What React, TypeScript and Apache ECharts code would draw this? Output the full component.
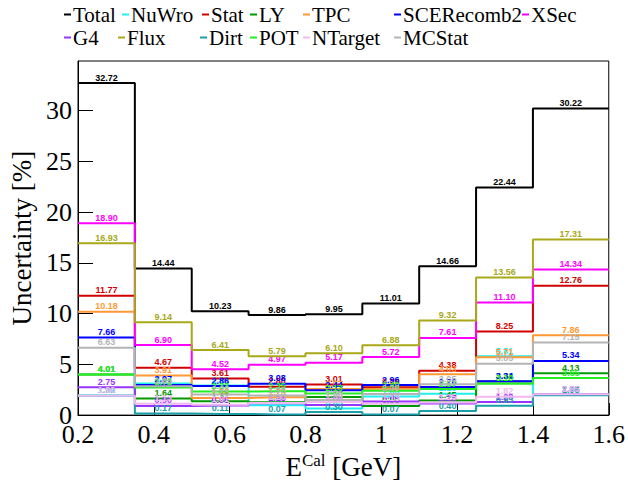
import React, { useEffect, useRef } from 'react';
import * as echarts from 'echarts';

const binEdges = [0.2, 0.35, 0.5, 0.65, 0.8, 0.95, 1.1, 1.25, 1.4, 1.6];
const xTicks = [0.2, 0.4, 0.6, 0.8, 1.0, 1.2, 1.4, 1.6];

const total = [32.72, 14.44, 10.23, 9.86, 9.95, 11.01, 14.66, 22.44, 30.22];
const nuwro = [1.92, 3.12, 2.92, 0.97, 0.65, 1.83, 2.1, 5.81, 2.05];
const stat = [11.77, 4.67, 3.61, 2.8, 3.01, 2.75, 4.38, 8.25, 12.76];
const ly = [4.01, 1.64, 1.37, 1.27, 1.79, 0.9, 1.45, 3.31, 4.13];
const tpc = [10.18, 3.91, 1.69, 1.75, 2.57, 2.6, 4.03, 5.71, 7.86];
const sce = [7.66, 2.97, 2.86, 3.08, 2.44, 2.96, 2.76, 3.34, 5.34];
const xsec = [18.9, 6.9, 4.52, 4.97, 5.17, 5.72, 7.61, 11.1, 14.34];
const g4 = [2.75, 0.9, 0.95, 1.18, 1.0, 1.33, 1.15, 1.28, 2.05];
const flux = [16.93, 9.14, 6.41, 5.79, 6.1, 6.88, 9.32, 13.56, 17.31];
const dirt = [1.9, 0.17, 0.11, 0.07, 0.3, 0.07, 0.4, 0.93, 1.95];
const pot = [4.01, 2.72, 2.33, 2.35, 2.13, 2.4, 2.57, 3.1, 3.65];
const ntarget = [1.9, 1.13, 1.01, 1.2, 1.3, 1.13, 1.25, 1.82, 2.05];
const mcstat = [6.63, 2.85, 2.03, 1.93, 1.5, 2.09, 3.05, 5.05, 7.15];

const seriesDefs = [
  { name: 'Total', values: total, color: '#000000' },
  { name: 'NuWro', values: nuwro, color: '#22eeee' },
  { name: 'Stat', values: stat, color: '#d00000' },
  { name: 'LY', values: ly, color: '#009900' },
  { name: 'TPC', values: tpc, color: '#ff9933' },
  { name: 'SCERecomb2', values: sce, color: '#0000ff' },
  { name: 'XSec', values: xsec, color: '#ff00ff' },
  { name: 'G4', values: g4, color: '#9933ff' },
  { name: 'Flux', values: flux, color: '#a8a818' },
  { name: 'Dirt', values: dirt, color: '#1a9fa8' },
  { name: 'POT', values: pot, color: '#22ee22' },
  { name: 'NTarget', values: ntarget, color: '#f2b8f2' },
  { name: 'MCStat', values: mcstat, color: '#b4b4b4' },
];

// legend layout: [left, top]
const legendPos: Record<string, [number, number]> = {
  Total: [64, 4], NuWro: [122, 4], Stat: [202, 4], LY: [250, 4], TPC: [303, 4], SCERecomb2: [394, 4], XSec: [522, 4],
  G4: [64, 27], Flux: [118, 27], Dirt: [200, 27], POT: [250, 27], NTarget: [303, 27], MCStat: [394, 27],
};

function buildData(values: number[]) {
  const out: any[] = [];
  values.forEach((v, i) => {
    const lo = binEdges[i];
    const hi = binEdges[i + 1];
    out.push([lo, v]);
    out.push({ value: [(lo + hi) / 2, v], label: { show: true } });
    out.push([hi, v]);
  });
  return out;
}

export default function App() {
  const ref = useRef<HTMLDivElement>(null);
  useEffect(() => {
    if (!ref.current) return;
    const chart = echarts.init(ref.current, undefined, { renderer: 'svg' });
    const serif = 'Liberation Serif';
    const option: any = {
      animation: false,
      backgroundColor: '#ffffff',
      legend: seriesDefs.map((s) => ({
        data: [s.name],
        left: legendPos[s.name][0],
        top: legendPos[s.name][1],
        icon: 'rect',
        itemWidth: 7,
        itemHeight: 2,
        itemGap: 0,
        padding: 0,
        selectedMode: false,
        textStyle: { fontFamily: serif, fontSize: 21, color: '#000', padding: [0, 0, 0, -3] },
      })),
      grid: { left: 78, right: 18, top: 61, bottom: 67, show: true, borderColor: '#000', borderWidth: 1 },
      xAxis: {
        type: 'value',
        min: 0.2,
        max: 1.6,
        interval: 0.2,
        name: '{a|E}{s|Cal}{a| [GeV]}',
        nameLocation: 'middle',
        nameGap: 30,
        nameTextStyle: {
          rich: {
            a: { fontFamily: serif, fontSize: 27, color: '#000' },
            s: { fontFamily: serif, fontSize: 17, color: '#000', padding: [0, 0, 12, 0] },
          },
        },
        axisLine: { lineStyle: { color: '#000', width: 1 } },
        axisTick: { inside: true, length: 12, lineStyle: { color: '#000' } },
        axisLabel: {
          fontFamily: serif,
          fontSize: 26,
          color: '#000',
          margin: 6,
          formatter: (v: number) => {
            const t = xTicks.find((x) => Math.abs(x - v) < 1e-6);
            if (t === undefined) return '';
            return Math.abs(t - Math.round(t)) < 1e-6 ? String(Math.round(t)) : t.toFixed(1);
          },
        },
        splitLine: { show: false },
      },
      yAxis: {
        type: 'value',
        min: 0,
        max: 34.9,
        interval: 5,
        name: 'Uncertainty [%]',
        nameLocation: 'middle',
        nameRotate: 90,
        nameGap: 38,
        nameTextStyle: { fontFamily: serif, fontSize: 27, color: '#000' },
        axisLine: { lineStyle: { color: '#000', width: 1 } },
        axisTick: { inside: true, length: 15, lineStyle: { color: '#000' } },
        axisLabel: { fontFamily: serif, fontSize: 26, color: '#000', margin: 6, showMaxLabel: false },
        splitLine: { show: false },
      },
      series: seriesDefs.map((s, i) => ({
        name: s.name,
        type: 'line',
        z: 2 + i,
        data: buildData(s.values),
        color: s.color,
        symbol: 'circle',
        symbolSize: 0,
        showSymbol: true,
        lineStyle: { color: s.color, width: 2 },
        label: {
          show: false,
          position: 'top',
          distance: 1,
          fontFamily: 'Liberation Sans',
          fontWeight: 'bold',
          fontSize: 9,
          color: s.color,
          formatter: (p: any) => Number(p.value[1]).toFixed(2),
        },
        emphasis: { disabled: true },
      })),
    };
    chart.setOption(option);
    return () => chart.dispose();
  }, []);
  return <div ref={ref} style={{ position: 'absolute', left: 0, top: 0, width: 628, height: 485 }} />;
}
